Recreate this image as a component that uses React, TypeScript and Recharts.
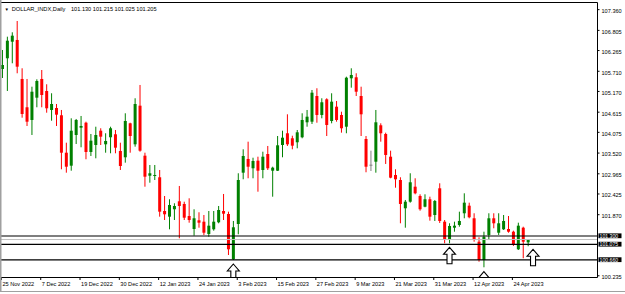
import React from "react";
import {
  ComposedChart,
  Bar,
  XAxis,
  YAxis,
  ReferenceLine,
  ReferenceDot,
} from "recharts";

// daily candles, oldest first (25 Nov 2022 .. 26 Apr 2023)
const opens = [
  105.771, 106.058, 106.502, 106.548, 105.504, 104.746, 104.406, 105.003, 105.504, 105.182,
  104.674, 104.727, 104.532, 103.53, 103.182, 104.004, 104.2, 104.333, 103.549, 103.736,
  104.119, 103.755, 103.943, 104.023, 103.576, 103.407, 104.317, 103.755, 104.789, 103.45,
  102.914, 102.906, 102.872, 101.969, 101.817, 102.015, 102.229, 102.157, 101.835, 101.487,
  101.72, 101.683, 101.354, 101.479, 101.667, 101.969, 101.889, 100.676, 101.621, 102.995,
  103.362, 103.113, 103.316, 103.067, 103.495, 103.048, 103.048, 103.736, 104.05, 103.916,
  103.809, 103.943, 104.344, 104.36, 105.048, 104.54, 104.96, 104.379, 104.762, 104.54,
  104.226, 105.522, 105.549, 105.048, 103.897, 103.209, 103.289, 104.264, 104.031, 103.423,
  102.933, 102.799, 102.042, 102.218, 102.62, 102.371, 102.084, 102.283, 101.862, 102.577,
  101.683, 101.193, 101.522, 101.595, 101.908, 102.111, 101.774, 101.147, 100.657, 101.327,
  101.774, 101.388, 101.479, 101.487, 101.415, 100.944, 101.522, 101.13,
];
const highs = [
  106.28, 106.636, 106.754, 107.056, 105.79, 105.504, 105.297, 105.495, 105.744, 105.362,
  105.121, 104.834, 104.674, 103.798, 104.451, 104.433, 104.513, 104.36, 104.031, 104.226,
  104.184, 104.05, 104.226, 104.138, 103.798, 104.585, 104.333, 104.987, 105.343, 103.53,
  103.201, 103.201, 103.067, 102.371, 102.283, 102.176, 102.639, 102.218, 102.309, 102.015,
  101.935, 101.862, 101.969, 101.969, 102.103, 102.425, 101.951, 101.702, 102.979, 103.621,
  103.825, 103.396, 103.423, 103.557, 103.71, 103.155, 103.977, 104.119, 104.558, 103.985,
  104.138, 104.585, 104.674, 105.209, 105.255, 104.987, 104.987, 105.121, 104.914, 104.628,
  105.565, 105.79, 105.656, 105.297, 103.977, 103.584, 104.674, 104.317, 104.066, 103.584,
  103.086, 102.872, 102.264, 102.979, 102.845, 102.416, 102.416, 102.352, 102.264, 102.711,
  101.728, 101.64, 101.683, 101.951, 102.443, 102.192, 101.908, 101.265, 101.415, 101.908,
  101.908, 101.908, 101.862, 101.835, 101.442, 101.656, 101.549, 101.215,
];
const lows = [
  105.53, 105.182, 105.924, 105.656, 104.467, 104.245, 104.004, 104.746, 104.746, 104.601,
  104.387, 104.245, 103.086, 102.995, 103.048, 103.763, 103.675, 103.354, 103.442, 103.38,
  103.736, 103.53, 103.514, 103.514, 103.067, 103.263, 103.53, 103.691, 103.557, 102.62,
  102.727, 102.799, 101.817, 101.728, 101.479, 101.728, 101.238, 101.728, 101.656, 101.308,
  101.522, 101.327, 101.281, 101.442, 101.64, 101.728, 100.791, 100.66, 101.346, 102.818,
  102.845, 102.845, 102.486, 102.845, 103.067, 102.352, 103.04, 103.407, 103.71, 103.621,
  103.648, 103.916, 104.226, 104.299, 104.333, 104.451, 103.977, 104.317, 104.36, 104.066,
  104.05, 105.271, 105.048, 103.977, 103.006, 103.04, 102.995, 103.825, 103.228, 102.845,
  102.593, 101.64, 101.522, 102.192, 102.416, 101.977, 102.068, 101.71, 101.702, 101.648,
  101.105, 101.105, 101.415, 101.549, 101.774, 101.774, 101.147, 100.612, 100.462, 101.193,
  101.506, 101.327, 101.461, 101.388, 101.032, 100.925, 100.703, 101.025,
];
const closes = [
  105.878, 106.529, 106.663, 105.833, 104.566, 104.36, 105.163, 105.45, 105.075, 104.719,
  104.834, 104.548, 103.53, 103.155, 104.119, 104.406, 104.245, 103.549, 103.852, 104.004,
  103.959, 103.844, 104.184, 103.664, 103.174, 104.379, 103.977, 104.834, 103.584, 102.888,
  102.979, 102.933, 101.951, 101.881, 102.13, 102.103, 102.103, 101.79, 101.728, 101.774,
  101.656, 101.388, 101.576, 101.683, 101.996, 101.897, 100.944, 101.533, 102.799, 103.442,
  103.155, 103.308, 103.048, 103.423, 103.113, 103.129, 103.728, 103.932, 103.755, 103.718,
  104.076, 104.406, 104.494, 105.137, 104.54, 104.88, 104.272, 104.896, 104.406, 104.184,
  105.538, 105.611, 105.163, 104.558, 103.155, 103.209, 104.344, 104.05, 103.469, 102.861,
  102.818, 102.157, 102.218, 102.738, 102.443, 102.015, 102.283, 101.817, 102.237, 101.702,
  101.193, 101.568, 101.576, 101.702, 102.192, 101.801, 101.193, 100.657, 101.281, 101.774,
  101.64, 101.64, 101.702, 101.415, 101.059, 101.576, 101.147, 101.205,
];

const dateTicks = [0, 8, 16, 24, 32, 40, 48, 56, 64, 72, 80, 88, 96, 104];
const dateLabels = [
  "25 Nov 2022", "7 Dec 2022", "19 Dec 2022", "30 Dec 2022", "12 Jan 2023",
  "24 Jan 2023", "3 Feb 2023", "15 Feb 2023", "27 Feb 2023", "9 Mar 2023",
  "21 Mar 2023", "31 Mar 2023", "12 Apr 2023", "24 Apr 2023",
];
const priceTicks = [
  107.36, 106.805, 106.265, 105.71, 105.17, 104.615, 104.075, 103.52,
  102.965, 102.425, 101.87, 100.235,
];
const levels = [101.3, 101.075, 100.66];
const bid = 101.205;
// hollow up arrows: bar index, price of the tip
const arrowBars = [47, 91, 108, 98];
const arrowPrices = [100.55, 100.997, 100.944, 100.344];

const UP = "#008000";
const DOWN = "#ff0000";
const FLAT = "#808080";
const FONT = "'Liberation Sans', Arial, sans-serif";

const data = opens.map((o, i) => ({
  i,
  open: o,
  high: highs[i],
  low: lows[i],
  close: closes[i],
  range: [lows[i], highs[i]],
}));

const Candle = (props: any) => {
  const { x, y, width, height, payload } = props;
  if (!payload || height == null) return null;
  const { open, high, low, close } = payload;
  const toY = (v: number) => y + ((high - v) / (high - low)) * height;
  const color = close > open ? UP : close < open ? DOWN : FLAT;
  const cx = x + width / 2;
  const top = toY(Math.max(open, close));
  const bot = toY(Math.min(open, close));
  return (
    <g>
      <line x1={cx} x2={cx} y1={y} y2={y + height} stroke={color} strokeWidth={1} />
      <rect x={x} y={top} width={width} height={Math.max(bot - top, 1)} fill={color} />
    </g>
  );
};

const DateTick = (props: any) => {
  const { x, y, payload } = props;
  const k = dateTicks.indexOf(payload.value);
  return (
    <g>
      <line x1={x - 1} x2={x - 1} y1={y} y2={y + 3} stroke="#000" strokeWidth={1} />
      <text x={x} y={y + 6.5} fontSize={5.6} fontFamily={FONT} fill="#000" dominantBaseline="central">
        {k >= 0 ? dateLabels[k] : ""}
      </text>
    </g>
  );
};

const PriceTick = (props: any) => {
  const { x, y, payload } = props;
  return (
    <text x={x} y={y + 1.4} fontSize={5.6} fontFamily={FONT} fill="#000" dominantBaseline="central">
      {payload.value.toFixed(3)}
    </text>
  );
};

const PriceBox = (props: any) => {
  const { viewBox, value, bg, fg } = props;
  if (!viewBox) return null;
  const x = viewBox.x + viewBox.width + 1.5;
  const y = viewBox.y;
  return (
    <g>
      <rect x={x} y={y - 2.6} width={23} height={4.8} fill={bg} />
      <text x={x + 1} y={y} fontSize={5.2} fontFamily={FONT} fill={fg} dominantBaseline="central">
        {value.toFixed(3)}
      </text>
    </g>
  );
};

const UpArrow = (props: any) => {
  const { cx, cy } = props;
  if (cx == null || cy == null) return null;
  const pts = [
    [0, 0], [6, 7], [2.5, 7], [2.5, 16.5], [-2.5, 16.5], [-2.5, 7], [-6, 7],
  ]
    .map(([dx, dy]) => `${cx + dx},${cy + dy}`)
    .join(" ");
  return (
    <g clipPath="url(#plotClip)">
      <polygon points={pts} fill="#fff" stroke="#000" strokeWidth={1.1} />
    </g>
  );
};

export default function App() {
  return (
    <div style={{ position: "absolute", left: 0, top: 0, width: 625, height: 294, background: "#fff" }}>
      <svg width={0} height={0} style={{ position: "absolute" }}>
        <defs>
          <clipPath id="plotClip" clipPathUnits="userSpaceOnUse">
            <rect x={0} y={3} width={597} height={274} />
          </clipPath>
        </defs>
      </svg>
      <ComposedChart
        width={625}
        height={294}
        data={data}
        margin={{ top: 3, right: 0, bottom: 0, left: 0 }}
      >
        <XAxis
          dataKey="i"
          type="number"
          domain={[-0.492, 121.02]}
          allowDataOverflow
          ticks={dateTicks}
          interval={0}
          height={17}
          tickLine={false}
          axisLine={false}
          tickSize={0}
          tickMargin={0}
          tick={<DateTick />}
        />
        <YAxis
          orientation="right"
          type="number"
          domain={[100.202, 107.538]}
          allowDataOverflow
          ticks={priceTicks}
          interval={0}
          width={28}
          axisLine={false}
          tickSize={2.5}
          tickMargin={2}
          tickLine={{ stroke: "#000" }}
          tick={<PriceTick />}
        />
        <ReferenceLine y={bid} stroke="#c0c0c0" strokeWidth={1} />
        {levels.map((v) => (
          <ReferenceLine
            key={v}
            y={v}
            stroke="#000"
            strokeWidth={1.2}
            label={<PriceBox value={v} bg="#000" fg="#fff" />}
          />
        ))}
        <Bar dataKey="range" barSize={3} shape={<Candle />} isAnimationActive={false} />
        {arrowBars.map((b, k) => (
          <ReferenceDot key={b} x={b} y={arrowPrices[k]} shape={<UpArrow />} ifOverflow="visible" />
        ))}
      </ComposedChart>
      <svg
        width={625}
        height={294}
        style={{ position: "absolute", left: 0, top: 0, pointerEvents: "none" }}
      >
        <line x1={0} x2={597.5} y1={2.5} y2={2.5} stroke="#000" strokeWidth={1} />
        <line x1={597.5} x2={597.5} y1={2.5} y2={277.5} stroke="#000" strokeWidth={1} />
        <line x1={0} x2={597.5} y1={277.5} y2={277.5} stroke="#000" strokeWidth={1} />
        <line x1={0.75} x2={0.75} y1={0} y2={291} stroke="#a0a0a0" strokeWidth={1.5} />
        <line x1={0} x2={625} y1={291.5} y2={291.5} stroke="#a0a0a0" strokeWidth={1} />
        <text x={4.5} y={9.3} fontSize={4.5} fontFamily={FONT} fill="#000" dominantBaseline="central">
          ▼
        </text>
        <text x={11.7} y={9.3} fontSize={5.7} fontFamily={FONT} fill="#000" dominantBaseline="central">
          DOLLAR_INDX,Daily
        </text>
        <text x={71} y={9.3} fontSize={5.6} fontFamily={FONT} fill="#000" dominantBaseline="central">
          101.130 101.215 101.025 101.205
        </text>
      </svg>
    </div>
  );
}
